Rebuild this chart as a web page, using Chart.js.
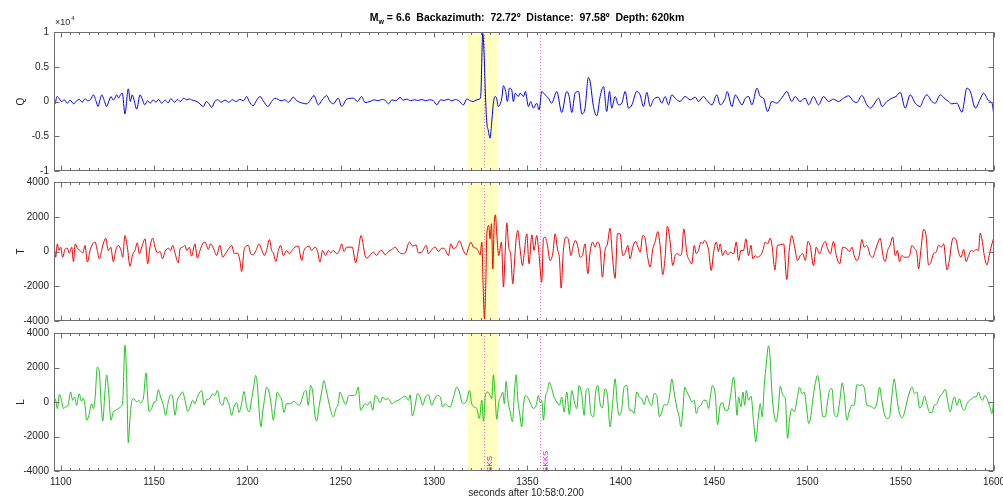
<!DOCTYPE html>
<html>
<head>
<meta charset="utf-8">
<script src="https://cdn.jsdelivr.net/npm/chart.js@4.4.1/dist/chart.umd.min.js"></script>
<style>
  body { margin: 0; background: #fff; }
  .panel { position: absolute; left: 0; width: 1003px; }
</style>
</head>
<body>
<div class="panel" style="top:0;height:181px"><canvas id="qChart"></canvas></div>
<div class="panel" style="top:172px;height:159px"><canvas id="tChart"></canvas></div>
<div class="panel" style="top:323px;height:180px"><canvas id="lChart"></canvas></div>
<script>
// x axis (seconds after 10:58:0.200)
const xTicks = [1100, 1150, 1200, 1250, 1300, 1350, 1400, 1450, 1500, 1550, 1600];
const qTicks = [-10000, -5000, 0, 5000, 10000];
const tlTicks = [-4000, -2000, 0, 2000, 4000];

// analysis window and phase picks
const windowStart = 1318;
const windowEnd = 1334;
const phaseNames = ["SKS", "SKKS"];
const phaseTimes = [1327, 1357];

// Q component
const qTime = [
  1096, 1097, 1098, 1099, 1100.5, 1102, 1103.5, 1105, 1107, 1108.5,
  1110, 1111.5, 1113, 1114.5, 1116, 1117.5, 1119, 1120, 1121, 1122,
  1123.5, 1124.5, 1126, 1127, 1128, 1129, 1130, 1131, 1132, 1133,
  1134.4, 1136.2, 1137.3, 1138.3, 1139.2, 1140.7, 1142.5, 1143.5, 1145, 1146.5,
  1148, 1149.5, 1151, 1152.5, 1154, 1156, 1157.5, 1159, 1161, 1162.5,
  1164, 1166, 1167.5, 1169, 1170, 1172, 1174, 1176.4, 1178, 1179.5,
  1180.9, 1182.5, 1184, 1186, 1188, 1190, 1192, 1194, 1196, 1198,
  1199.6, 1201, 1203, 1205, 1206.8, 1208.5, 1211, 1213, 1214.8, 1216.5,
  1218, 1220, 1222, 1224.6, 1226.5, 1228, 1231.8, 1233.5, 1235.7, 1238,
  1240, 1242.5, 1244, 1246, 1248.7, 1250.5, 1253.2, 1256.8, 1259, 1261.2,
  1263, 1265.7, 1268, 1270, 1272, 1274, 1275.6, 1277.5, 1279.5, 1281.8,
  1283.5, 1285.5, 1287.5, 1289.5, 1291.5, 1293.5, 1295.5, 1297.5, 1299.5, 1301.5,
  1303.5, 1305.5, 1307.5, 1309.5, 1311.5, 1313.5, 1315.8, 1317.5, 1319.5, 1321,
  1322.5, 1324.3, 1325, 1326.1, 1326.8, 1327.5, 1328.3, 1329, 1330, 1331,
  1331.8, 1332.7, 1333.5, 1334.5, 1336.3, 1337.2, 1338.4, 1339.3, 1340.4, 1341.6,
  1342.5, 1343.5, 1345.2, 1346.1, 1348, 1348.9, 1350.6, 1351.8, 1353.3, 1355,
  1356.3, 1357.7, 1359.5, 1361.3, 1363, 1365.8, 1368.4, 1371.1, 1372.4, 1373.8,
  1375.6, 1377.4, 1379.2, 1380.9, 1382.7, 1383.6, 1385.4, 1387.2, 1389, 1390.8,
  1392.5, 1394, 1395.2, 1397, 1398.8, 1400.6, 1402.4, 1404.2, 1406, 1408.6,
  1410.4, 1412.2, 1414, 1415.8, 1417.5, 1420.2, 1422, 1423.8, 1425.6, 1427.4,
  1429.2, 1431.8, 1434.5, 1437.3, 1440, 1441.7, 1444.4, 1446.2, 1448.9, 1451.5,
  1453.3, 1456, 1457, 1459.6, 1461.4, 1463.2, 1465, 1466.8, 1468.5, 1470.3,
  1473, 1474.8, 1476.5, 1478.7, 1481, 1483.7, 1485.5, 1487.3, 1489, 1491.7,
  1493.5, 1496, 1498.9, 1500.7, 1503.3, 1506, 1508.7, 1511.4, 1514, 1516.7,
  1519.4, 1522.1, 1524.8, 1526.5, 1529.2, 1531.9, 1533.7, 1535.5, 1538.2, 1540,
  1542.6, 1545.3, 1547.5, 1549.8, 1552.4, 1555.1, 1557.8, 1560.5, 1562.2, 1564,
  1566.7, 1568.5, 1571.2, 1573.9, 1575.7, 1577.4, 1580.1, 1582.8, 1585.5, 1587.3,
  1590, 1592.6, 1594.4, 1597.1, 1598.9, 1600
];
const qVal = [
  -480, -340, 720, 480, 0, 240, -240, 190, -340, 100,
  300, -100, 380, 100, 290, 960, 0, -720, 200, 960,
  0, -720, 200, 720, 200, 480, 960, 500, 960, 1200,
  -1780, 1820, 0, 960, 300, -1100, 960, 480, -480, 100,
  -240, 240, -100, 300, -240, 200, -200, 400, -100, 300,
  0, 480, 240, 380, 240, 100, -200, -720, 0, -340,
  -860, 0, 240, -100, 200, -100, 240, 0, 300, 100,
  720, 0, -620, 200, 720, 100, -720, 0, 480, 300,
  100, 240, -100, 620, 100, -100, -340, 100, 860, -480,
  200, 860, 100, -340, 480, -720, 340, 480, 0, 720,
  -150, 0, 240, 100, 290, 150, -340, 240, 100, 580,
  200, 340, 100, 240, 150, 290, 100, 240, 150, -480,
  240, 150, 340, 100, 290, 50, -480, 340, 100, 0,
  200, 340, 720, 9800, 6960, 1200, -3120, -4080, -5280, -2640,
  -240, 720, 480, -720, 480, 2260, 1440, 0, 1920, 1680,
  0, 1200, 720, 1200, 720, 1440, -720, 0, -960, -240,
  -1200, 1440, 960, 480, -240, 1440, -1580, 1440, 720, -1580,
  1200, 1440, -1780, -960, 3460, 2880, -720, -2060, 720, 2160,
  -1440, 1440, -960, 720, -480, -240, 1440, -960, -480, 1440,
  960, -720, 1300, -720, 240, 620, -240, 720, -480, 960,
  480, 0, 720, 240, 620, 0, 720, 150, -480, 960,
  -480, 480, 1440, -720, 960, 240, -480, 480, 720, -480,
  1920, 720, 480, -1440, 0, -240, 240, 900, 1440, 0,
  720, 0, 480, -480, 720, -480, 720, 0, 340, 0,
  480, 820, 0, -150, 860, -480, -960, -480, 480, -720,
  0, 480, 720, 1300, -960, 960, -240, -720, 300, 960,
  0, -240, 960, 340, 0, -340, -240, -1540, 1920, 1440,
  -960, 340, 1200, 140, -240, -2060
];

// T component
const tTime = [
  1095.7, 1096.4, 1097.3, 1098.2, 1099, 1100, 1101, 1102.3, 1103.5, 1104.6,
  1105.9, 1106.8, 1107.8, 1108.9, 1110.3, 1111.8, 1113, 1114.3, 1115.7, 1117.1,
  1118.4, 1119.6, 1120.7, 1121.9, 1122.8, 1124.1, 1125.5, 1126.8, 1128.2, 1129.6,
  1130.9, 1132.3, 1133.2, 1134.4, 1135.7, 1137.1, 1138.5, 1139.8, 1141, 1142.1,
  1143.4, 1145.2, 1146.6, 1147.8, 1149.3, 1150.5, 1151.8, 1153.2, 1154.6, 1155.9,
  1157.7, 1158.9, 1160, 1161.2, 1163, 1163.9, 1165.3, 1166.6, 1167.5, 1168.9,
  1170.1, 1171.9, 1173.2, 1174.6, 1176, 1177.3, 1179.1, 1180.3, 1181.8, 1183.5,
  1185.3, 1186.8, 1188.2, 1189.8, 1191.6, 1193, 1194.6, 1196, 1196.9, 1198.2,
  1199.3, 1200.5, 1201.8, 1203.2, 1204.6, 1206.2, 1207.6, 1209.1, 1210.3, 1211.8,
  1213, 1213.9, 1215.3, 1216.6, 1217.8, 1219.3, 1221, 1222.5, 1223.9, 1225.5,
  1227.3, 1229.1, 1230.3, 1231.7, 1233.2, 1234.4, 1236.2, 1237.6, 1238.9, 1240.3,
  1241.9, 1243.4, 1244.6, 1246, 1247.8, 1249.3, 1250.5, 1251.8, 1253.2, 1255,
  1256.2, 1258, 1259.4, 1260.9, 1262, 1263, 1264.3, 1265.8, 1267.5, 1269.3,
  1270.7, 1272, 1273.8, 1275.6, 1277.4, 1279.2, 1281, 1282.7, 1284.5, 1286.8,
  1288.6, 1290.4, 1291.6, 1293.4, 1295.8, 1297, 1298.8, 1300.6, 1302.4, 1304.1,
  1305.9, 1307.7, 1309, 1310.4, 1311.8, 1313.6, 1315.7, 1317.2, 1318.4, 1319.7,
  1321.1, 1322.5, 1323.8, 1324.7, 1325.6, 1326.3, 1327, 1327.7, 1328.3, 1329.3,
  1330, 1330.8, 1331.5, 1332.2, 1332.9, 1333.6, 1334.7, 1336.1, 1337.2, 1338.1,
  1339, 1339.9, 1341.1, 1342.2, 1343.1, 1344, 1344.9, 1346.1, 1347.4, 1348.3,
  1349.7, 1350.9, 1352.4, 1353.6, 1355, 1356.3, 1357.7, 1358.6, 1359.5, 1360.6,
  1362.2, 1363.6, 1364.9, 1366.1, 1367.2, 1368.1, 1369.3, 1370.6, 1372, 1373.3,
  1374.4, 1375.6, 1376.9, 1378.3, 1379.5, 1380.9, 1382.4, 1383.6, 1384.9, 1386.3,
  1387.5, 1389, 1390.2, 1391.6, 1392.9, 1394.3, 1395.6, 1397, 1398.3, 1399.7,
  1401.1, 1402.4, 1403.8, 1405, 1406.5, 1407.9, 1409.3, 1410.4, 1411.8, 1413.1,
  1414.3, 1415.8, 1417.2, 1418.4, 1419.9, 1421.1, 1422.5, 1423.8, 1425, 1426.5,
  1427.9, 1429.2, 1430.4, 1432, 1432.8, 1433.8, 1435.5, 1436.9, 1438.1, 1439.4,
  1440.5, 1441.7, 1443, 1444, 1444.8, 1445.8, 1447.1, 1448.5, 1449.8, 1451.2,
  1452.4, 1453.3, 1454.6, 1456, 1457.4, 1458.7, 1460.5, 1461.9, 1463.2, 1464.4,
  1465.8, 1467.1, 1468.5, 1469.8, 1470.8, 1472.1, 1473.3, 1474.8, 1476.2, 1477.4,
  1478.7, 1480.1, 1481.2, 1482.6, 1484, 1485.5, 1487.3, 1489, 1490.3, 1491.7,
  1493.2, 1494.8, 1496.2, 1497.6, 1498.9, 1500.3, 1501.5, 1503.3, 1504.8, 1506.5,
  1508.3, 1509.6, 1510.8, 1512.3, 1514, 1515.5, 1517.3, 1519, 1520.8, 1522.6,
  1523.9, 1525.1, 1526.5, 1527.8, 1529.2, 1530.5, 1531.9, 1533.7, 1535.1, 1536.4,
  1537.6, 1539, 1540.5, 1541.7, 1543, 1544.4, 1545.7, 1547.1, 1548.3, 1549.4,
  1550.6, 1551.9, 1553.3, 1554.8, 1556, 1557.3, 1558.7, 1559.6, 1560.8, 1562.3,
  1563.7, 1564.9, 1566.2, 1567.6, 1569, 1570.3, 1571.7, 1573, 1574.8, 1576.2,
  1577.4, 1578.3, 1579.8, 1581, 1582.3, 1583.7, 1585.1, 1586.4, 1587.8, 1589,
  1590.5, 1591.7, 1592.6, 1593.5, 1594.8, 1596.2, 1597.6, 1598.9, 1600
];
const tVal = [
  -80, 350, -330, 440, 60, 250, -330, 120, 190, -100,
  250, -580, 440, 190, 60, -80, 350, -610, 60, 440,
  540, 60, -420, 60, 440, 770, 60, 250, -580, 120,
  350, 60, -330, 920, 250, -850, -190, 60, 500, -130,
  250, 730, -710, 250, 770, 250, -80, 0, -420, 0,
  190, 60, 350, -80, -650, 150, 250, 350, 60, 250,
  -270, 440, -380, 60, 440, 540, 120, 440, 190, -230,
  350, -330, -130, 120, 350, -130, -80, -520, -1150, 60,
  310, 350, -130, -190, 60, 440, 120, -230, 60, 690,
  60, -80, -580, 60, 350, -230, 60, -130, 60, 250,
  310, -520, 60, 250, 310, 60, 250, 0, -610, 60,
  -230, 60, -80, 60, -130, 60, 440, 0, 250, 250,
  250, -650, 60, 920, 440, -230, -380, -190, -40, -230,
  0, 60, -190, 0, 120, 250, 0, -130, -80, 540,
  310, 380, -80, -40, 350, -130, 120, 250, 0, 190,
  120, -230, 440, 150, 250, 610, 60, -190, 190, 540,
  250, 190, 0, -190, 540, -1970, -3880, -1970, 1020, 1500,
  730, 1600, -1000, 1500, 2110, 1020, -230, 540, -2050, -40,
  1650, 350, -230, -1860, -610, 730, 1210, 150, -810, -130,
  1020, -710, 960, 60, 920, -230, -1770, 730, 830, 440,
  -520, -130, 1020, 150, -420, -2110, 60, 830, 690, -230,
  250, 630, 350, -330, -230, 440, -1290, -40, 540, 250,
  540, 150, -1480, 60, 440, 1340, -330, -1540, 1020, 1020,
  -230, -80, 350, -420, 250, 580, 250, -40, 920, 730,
  -230, -900, 150, 540, 1150, 350, -1340, -330, 1460, 540,
  -810, -230, -130, -230, 0, 1300, -130, -520, -710, 350,
  -130, 60, 540, 440, 630, 540, 60, -1090, -40, 540,
  0, 440, -230, 60, -190, -40, -130, 540, -520, 60,
  60, 730, -230, 350, -420, -230, -330, -230, 60, 540,
  440, 770, 250, -1060, 350, 380, 440, -1610, 60, 920,
  250, -520, -230, -130, -520, 580, 350, -810, 250, -130,
  380, 580, 190, -130, 580, -230, -710, 250, 190, 0,
  250, -230, -520, -230, 690, 250, 350, -230, -330, 60,
  440, 770, -230, -580, 60, 380, 830, -230, 60, -580,
  -230, -330, -330, -230, 350, 190, -130, -1000, 60, 1270,
  830, -770, -620, -130, -40, 350, 250, 440, -1060, -420,
  540, 790, 630, -40, -330, 120, -580, -230, 60, 0,
  120, 60, 1060, 730, -230, -770, -130, 440, 830
];

// L component
const lTime = [
  1095.7, 1096.4, 1097.3, 1098.2, 1099.3, 1100.4, 1101.4, 1102.6, 1103.9, 1105.3,
  1106.4, 1107.5, 1108.5, 1109.9, 1111.2, 1112.1, 1113, 1113.9, 1115.1, 1116.6,
  1117.5, 1118.4, 1119.6, 1120.7, 1121.6, 1122.5, 1123.7, 1124.6, 1125.7, 1126.9,
  1128.2, 1129.6, 1130.9, 1132.1, 1133.2, 1134.4, 1135.3, 1136.2, 1137.1, 1138.2,
  1139.3, 1140.7, 1141.8, 1142.8, 1144.3, 1145.7, 1146.4, 1147.3, 1148.7, 1150,
  1151, 1152.3, 1153.5, 1155, 1156.2, 1157.6, 1158.9, 1160, 1161.2, 1162.5,
  1163.9, 1165.3, 1166.6, 1168, 1169.3, 1170.7, 1171.9, 1173.2, 1174.6, 1175.5,
  1176.8, 1177.8, 1179.1, 1180.3, 1181.4, 1182.6, 1183.9, 1185.3, 1186.8, 1188,
  1189.3, 1190.3, 1191.6, 1192.8, 1194.3, 1195.5, 1196.9, 1198.2, 1199.6, 1201,
  1202.3, 1203.5, 1204.4, 1205.3, 1206.2, 1207.3, 1208.2, 1209.1, 1210.3, 1211.6,
  1212.8, 1213.9, 1215, 1216, 1217.1, 1218.4, 1219.6, 1221, 1222.5, 1223.9,
  1225.1, 1226.4, 1227.8, 1229.3, 1230.5, 1231.4, 1232.6, 1233.9, 1235, 1236.2,
  1237.1, 1238.5, 1239.8, 1241, 1242.1, 1243.4, 1244.6, 1246, 1247.5, 1248.7,
  1249.6, 1250.5, 1251.8, 1252.8, 1254.1, 1255.3, 1256.8, 1258.2, 1259.4, 1260.7,
  1261.8, 1263, 1264.3, 1265.8, 1267.2, 1268.4, 1269.7, 1271.1, 1272.5, 1273.8,
  1275.6, 1277.4, 1279.2, 1280.9, 1282.7, 1284.5, 1286.3, 1287.2, 1288.4, 1289.9,
  1291.1, 1292.5, 1294, 1295.2, 1297, 1298.8, 1300, 1301.8, 1303.3, 1304.7,
  1305.9, 1307.4, 1308.6, 1310.4, 1312.2, 1313.6, 1314.9, 1316.1, 1317.5, 1319,
  1320.2, 1321.5, 1322.9, 1324.3, 1325.6, 1326.5, 1327.5, 1328.6, 1330, 1330.9,
  1331.8, 1332.7, 1333.6, 1334.7, 1335.8, 1336.8, 1337.7, 1338.6, 1339.7, 1340.8,
  1342, 1343.1, 1344, 1344.9, 1345.8, 1347, 1347.9, 1349.1, 1350.6, 1351.8,
  1353.3, 1354.7, 1355.9, 1356.8, 1357.7, 1358.6, 1359.7, 1360.8, 1361.8, 1363.1,
  1364.3, 1365.8, 1367.2, 1368.4, 1369.7, 1371.1, 1372.5, 1373.8, 1375, 1376.5,
  1377.7, 1379.2, 1380.4, 1381.5, 1382.7, 1384, 1385.4, 1386.6, 1387.7, 1389,
  1390.2, 1391.6, 1392.9, 1394.3, 1395.6, 1397, 1398.3, 1399.3, 1400.6, 1401.8,
  1403.3, 1404.7, 1405.9, 1407.2, 1408.6, 1410, 1411.3, 1412.5, 1414, 1415.4,
  1416.6, 1417.9, 1419.3, 1420.8, 1422, 1423.3, 1424.7, 1426.1, 1427.4, 1428.6,
  1430, 1431.3, 1432.2, 1433.3, 1434.3, 1435.5, 1436.9, 1438.2, 1439.4, 1440.5,
  1441.7, 1443, 1444.4, 1445.8, 1447.1, 1448, 1449.2, 1450.7, 1451.9, 1453.3,
  1454.6, 1456, 1457.3, 1458.7, 1460.5, 1461.4, 1462.3, 1463.2, 1464.4, 1465.5,
  1466.4, 1467.3, 1468.5, 1469.8, 1471.2, 1472.4, 1473.5, 1474.8, 1475.8, 1476.9,
  1478, 1479.2, 1480.1, 1481, 1482.3, 1483.3, 1484.6, 1485.5, 1486.9, 1488.2,
  1489.4, 1490.5, 1491.7, 1493, 1494.4, 1495.8, 1497.1, 1498.3, 1499.8, 1500.7,
  1501.5, 1503, 1504.2, 1505.5, 1506.9, 1508.3, 1509.6, 1510.8, 1511.9, 1513.2,
  1514.4, 1515.8, 1517.3, 1518.7, 1519.8, 1521.2, 1522.4, 1523.9, 1525.1, 1526.5,
  1528, 1529.4, 1530.6, 1531.9, 1533.3, 1534.6, 1535.8, 1537.3, 1538.7, 1539.9,
  1541.2, 1542.6, 1544, 1545.3, 1546.5, 1548, 1549.2, 1550.6, 1551.9, 1553.3,
  1554.8, 1556.2, 1557.4, 1558.7, 1560.1, 1561.4, 1562.8, 1564, 1565.5, 1566.7,
  1568, 1569.4, 1570.8, 1572.3, 1573.9, 1575.1, 1576.5, 1578, 1578.9, 1580.1,
  1581.5, 1582.8, 1584, 1585.5, 1586.9, 1588.2, 1589.4, 1590.5, 1591.7, 1592.6,
  1593.9, 1595.1, 1596.2, 1597.6, 1598.9, 1600
];
const lVal = [
  0, 230, 100, -380, 440, 100, -380, -290, -190, 580,
  100, 290, -190, 480, 40, 230, -190, -1060, -770, -100,
  -380, 190, 2020, 1730, 0, -1110, 580, 1570, 580, -1060,
  -580, -480, -380, -290, 0, 3300, 1540, -2350, -960, 100,
  190, 0, 100, -40, 230, 1690, 580, -540, -380, 0,
  40, 710, 290, -190, -770, 0, 420, 290, -770, 100,
  380, 580, 100, -540, -290, 100, -100, 290, 580, 670,
  -190, 100, 150, 290, 480, 380, 670, 0, -190, 290,
  100, -190, -770, -290, -40, -610, -100, 610, -290, -580,
  190, 960, 1540, 1060, -380, -1440, -580, 100, 860, 580,
  -190, -1060, -190, 580, 380, 100, -610, -100, -100, -40,
  40, -100, -190, 190, 610, 670, -190, 960, 580, -770,
  -1110, -190, 580, 1250, 770, 100, -480, -860, -380, -100,
  580, 380, 0, -150, 340, 380, 380, 480, 860, -480,
  -290, -100, -190, 40, -480, 380, 230, -40, 290, 150,
  190, -100, 40, 100, 230, 340, 100, 420, -810, -190,
  480, 290, -190, 230, 420, -190, 100, 380, 290, -290,
  -100, -230, -290, 290, 860, 580, 0, -100, 100, 670,
  -100, -290, -380, -960, 100, -1110, 380, 580, 380, 190,
  1580, 380, -1000, 0, 290, 580, -100, 1190, 0, -580,
  -1150, 580, 1580, 100, -580, -1440, -190, 380, 190, -100,
  -380, -190, 380, -40, 100, -1060, 290, 670, 1150, 770,
  290, 0, -190, 290, -580, 580, -730, 670, 100, -380,
  960, 380, -770, 670, 770, -670, -860, 580, 960, -100,
  -350, 770, 380, -1440, -190, 1340, -290, -770, -380, 860,
  960, -480, -480, -670, 580, 290, 190, -150, 380, -40,
  -190, 480, 380, -860, -580, -150, -190, 290, 1340, 580,
  -290, -860, -1440, -480, 860, 580, 290, 0, 100, -670,
  -290, -190, 100, 100, -380, 290, 960, 380, -1310, -190,
  -40, -480, -480, 230, 1440, 580, -770, 290, -290, 580,
  -190, 670, 100, 340, -1150, -2300, -1150, -100, -860, 960,
  2210, 3260, 2500, 580, -770, -1150, -190, 920, 380, 190,
  -2110, -960, -380, -580, 100, 860, 480, 580, -580, -1250,
  -1060, 190, 1060, 1540, 580, -860, -860, 0, 670, 770,
  -670, -860, 0, 1110, 380, -1060, -580, -190, -190, 1000,
  960, 1000, 770, -190, -230, -290, -380, -40, 860, 100,
  -670, -960, -860, 380, 1340, 190, -580, -920, -670, 0,
  580, 860, 480, 580, -350, -190, 340, -100, -610, -610,
  -190, -100, 290, 480, 730, 100, -580, 100, 290, -190,
  190, -290, -480, -100, 100, 190, 290, 290, 580, 290,
  100, 380, 190, -190, -670, 290
];

const FONT = "'Liberation Sans', Arial, sans-serif";
const AXIS = "#6e6e6e";
const TEXT = "#262626";

function drawTitle(ctx) {
  const rest = " = 6.6  Backazimuth:  72.72\u00ba  Distance:  97.58\u00ba  Depth: 620km";
  ctx.font = "bold 10.5px " + FONT;
  const wM = ctx.measureText("M").width;
  const wR = ctx.measureText(rest).width;
  ctx.font = "bold 7px " + FONT;
  const wW = ctx.measureText("w").width;
  let x = 527 - (wM + wW + wR) / 2;
  ctx.fillStyle = "#000";
  ctx.textBaseline = "alphabetic";
  ctx.textAlign = "left";
  ctx.font = "bold 10.5px " + FONT;
  ctx.fillText("M", x, 21);
  x += wM;
  ctx.font = "bold 7px " + FONT;
  ctx.fillText("w", x, 24);
  x += wW;
  ctx.font = "bold 10.5px " + FONT;
  ctx.fillText(rest, x, 21);
}

// band, phase lines, box, inward ticks and the loose texts
const frame = {
  id: "frame",
  beforeDatasetsDraw(chart) {
    const { ctx, chartArea: a, scales: { x } } = chart;
    ctx.save();
    const b0 = x.getPixelForValue(windowStart);
    const b1 = x.getPixelForValue(windowEnd);
    ctx.fillStyle = "#ffffbe";
    ctx.fillRect(b0, a.top, b1 - b0, a.bottom - a.top);
    ctx.strokeStyle = "rgba(230, 60, 230, 0.75)";
    ctx.lineWidth = 1;
    ctx.setLineDash([1, 2]);
    phaseTimes.forEach((t) => {
      const px = Math.round(x.getPixelForValue(t)) + 0.5;
      ctx.beginPath();
      ctx.moveTo(px, a.top);
      ctx.lineTo(px, a.bottom);
      ctx.stroke();
    });
    ctx.restore();
  },
  afterDraw(chart, args, opts) {
    const { ctx, chartArea: a, scales: { x, y } } = chart;
    ctx.save();
    ctx.strokeStyle = AXIS;
    ctx.lineWidth = 1;
    const L = Math.round(a.left) + 0.5, R = Math.round(a.right) - 0.5;
    const T = Math.round(a.top) + 0.5, B = Math.round(a.bottom) - 0.5;
    ctx.strokeRect(L, T, R - L, B - T);
    ctx.beginPath();
    for (let t = 1100; t <= 1600; t += 5) {
      const px = Math.round(x.getPixelForValue(t)) + 0.5;
      const len = t % 50 === 0 ? 5 : 2.5;
      ctx.moveTo(px, B); ctx.lineTo(px, B - len);
      ctx.moveTo(px, T); ctx.lineTo(px, T + len);
    }
    opts.yTicks.forEach((v) => {
      const py = Math.round(y.getPixelForValue(v)) + 0.5;
      ctx.moveTo(L, py); ctx.lineTo(L + 5, py);
      ctx.moveTo(R, py); ctx.lineTo(R - 5, py);
    });
    ctx.stroke();

    // component name
    ctx.fillStyle = TEXT;
    ctx.font = "10px " + FONT;
    ctx.textAlign = "center";
    ctx.textBaseline = "middle";
    ctx.translate(21, (a.top + a.bottom) / 2);
    ctx.rotate(-Math.PI / 2);
    ctx.fillText(opts.name, 0, 0);
    ctx.setTransform(1, 0, 0, 1, 0, 0);

    if (opts.exponent) {
      ctx.textAlign = "left";
      ctx.textBaseline = "alphabetic";
      ctx.font = "9px " + FONT;
      ctx.fillText("\u00d710", 55, 25);
      const w = ctx.measureText("\u00d710").width;
      ctx.font = "6px " + FONT;
      ctx.fillText("4", 56 + w, 20);
      drawTitle(ctx);
    }
    if (opts.phases) {
      ctx.fillStyle = "#e600e6";
      ctx.font = "8px " + FONT;
      ctx.textAlign = "left";
      ctx.textBaseline = "middle";
      phaseTimes.forEach((t, i) => {
        const px = x.getPixelForValue(t) + 5;
        ctx.save();
        ctx.translate(px, a.bottom + 1);
        ctx.rotate(-Math.PI / 2);
        ctx.fillText(phaseNames[i], 0, 0);
        ctx.restore();
      });
    }
    if (opts.xTitle) {
      ctx.fillStyle = TEXT;
      ctx.font = "10px " + FONT;
      ctx.textAlign = "center";
      ctx.textBaseline = "middle";
      ctx.fillText(opts.xTitle, 526, a.bottom + 22);
    }
    ctx.restore();
  }
};

function makeChart(id, time, vals, color, yTicks, pad, extra) {
  const showX = !!extra.xTitle;
  return new Chart(document.getElementById(id), {
    type: "line",
    data: {
      datasets: [{
        data: time.map((t, i) => ({ x: t, y: vals[i] })),
        borderColor: color,
        borderWidth: 1,
        pointRadius: 0,
        cubicInterpolationMode: "monotone",
        fill: false,
      }],
    },
    options: {
      responsive: true,
      maintainAspectRatio: false,
      animation: false,
      events: [],
      layout: { padding: { top: pad[0], bottom: pad[1], left: 0, right: 9 } },
      plugins: {
        legend: { display: false },
        tooltip: { enabled: false },
        frame: Object.assign({ yTicks: yTicks }, extra),
      },
      scales: {
        x: {
          type: "linear",
          min: 1096.4,
          max: 1600,
          display: showX,
          grid: { display: false, drawTicks: false },
          border: { display: false },
          afterBuildTicks: (s) => { s.ticks = xTicks.map((v) => ({ value: v })); },
          afterFit: (s) => { s.height = showX ? 32 : 0; s.paddingLeft = 0; s.paddingRight = 0; },
          ticks: {
            padding: 5,
            color: TEXT,
            font: { family: FONT, size: 10 },
            maxRotation: 0,
            autoSkip: false,
            callback: (v) => String(v),
          },
        },
        y: {
          min: yTicks[0],
          max: yTicks[yTicks.length - 1],
          grid: { display: false, drawTicks: false },
          border: { display: false },
          afterBuildTicks: (s) => { s.ticks = yTicks.map((v) => ({ value: v })); },
          afterFit: (s) => { s.width = 54; s.paddingTop = 0; s.paddingBottom = 0; },
          ticks: {
            padding: 5,
            color: TEXT,
            font: { family: FONT, size: 10 },
            callback: extra.exponent ? (v) => String(v / 10000) : (v) => String(v),
          },
        },
      },
    },
    plugins: [frame],
  });
}

makeChart("qChart", qTime, qVal, "#0000ee", qTicks, [32, 10], { name: "Q", exponent: true });
makeChart("tChart", tTime, tVal, "#ee0000", tlTicks, [10, 10], { name: "T" });
makeChart("lChart", lTime, lVal, "#1ec31e", tlTicks, [10, 0], { name: "L", phases: true, xTitle: "seconds after 10:58:0.200" });
</script>
</body>
</html>
